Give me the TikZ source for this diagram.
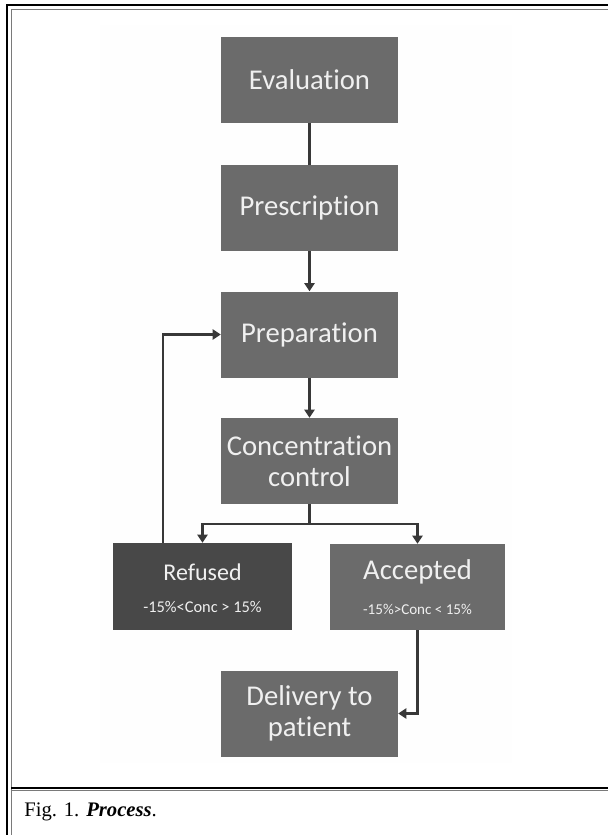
\documentclass[tikz,border=0pt]{standalone}
\usepackage{fontspec}
\setmainfont{Liberation Serif}
\newfontfamily\boxfont[RawFeature={-liga}]{Carlito}
\usetikzlibrary{arrows.meta}
\definecolor{boxgray}{HTML}{6B6B6B}
\definecolor{boxdark}{HTML}{484848}
\definecolor{boxtext}{HTML}{F0F0F0}
\definecolor{linegray}{HTML}{383838}
\definecolor{framegray}{HTML}{7A7A7A}
\definecolor{slidebg}{HTML}{FEFEFE}
\tikzset{
  stepbox/.style={fill=boxgray, text=boxtext, inner sep=0pt, align=center,
    minimum width=132.75pt, minimum height=64.5pt,
    font=\boxfont\fontsize{21.5}{23}\selectfont},
  darkbox/.style={stepbox, fill=boxdark, minimum width=134.25pt, minimum height=65.25pt},
  accbox/.style={stepbox, minimum width=131.25pt, minimum height=64.5pt},
  boxlabel/.style={text=boxtext, inner sep=0pt},
  conn/.style={draw=linegray, line width=1.7pt},
  arr/.style={conn, -{Triangle[length=6pt,width=7.5pt]}},
}
\begin{document}
\begin{tikzpicture}[x=0.75pt,y=-0.75pt]
\useasboundingbox (0,0) rectangle (608,835);
% faint slide background
\fill[slidebg] (100,25) rectangle (512,763);
% frame
\draw[black, line width=1.9pt] (7,835) -- (7,5) -- (608,5);
\draw[framegray, line width=0.9pt] (11.5,835) -- (11.5,9.5) -- (608,9.5);
\draw[black, line width=1.9pt] (11,788) -- (608,788);
\draw[framegray, line width=0.6pt] (11,790.3) -- (608,790.3);
% boxes
\node[stepbox] (eval)  at (309.5,80)    {Evaluation};
\node[stepbox] (presc) at (309.5,208)   {Prescription};
\node[stepbox] (prep)  at (309.5,334.5) {Preparation};
\node[stepbox] (conc)  at (309.5,461)   {Concentration\\control};
\node[darkbox] (ref)   at (202.5,586.5) {};
\node[accbox]  (acc)   at (417.5,587)   {};
\node[stepbox] (deliv) at (309.5,713.5) {Delivery to\\patient};
% box texts
\node[boxlabel, font=\boxfont\fontsize{18}{20}\selectfont] (reft) at (202.5,572) {Refused};
\node[boxlabel, font=\boxfont\fontsize{12.3}{14}\selectfont] (refs) at (202.5,607) {-15\%<Conc > 15\%};
\node[boxlabel, font=\boxfont\fontsize{21.5}{23}\selectfont] (acct) at (417.5,572) {Accepted};
\node[boxlabel, font=\boxfont\fontsize{11.3}{13}\selectfont] (accs) at (417.5,609) {-15\%>Conc < 15\%};
% connectors
\coordinate (split) at (309.5,524);
\coordinate (fb) at (163,0);
\draw[conn] (eval) -- (presc);
\draw[arr] (presc) -- (prep);
\draw[arr] (prep) -- (conc);
\draw[conn] (conc.south) -- (split);
\draw[arr] (split) -| (ref.north);
\draw[arr] (split) -| (acc.north);
\draw[arr] (ref.north -| fb) |- (prep.west);
\draw[arr] (acc.south) |- (deliv.east);
% caption
\node[anchor=west, inner sep=0pt, font=\fontsize{15.5}{18}\selectfont] (cap) at (24,812) {Fig. 1. \textbf{\textit{Process}}.};
\end{tikzpicture}
\end{document}
